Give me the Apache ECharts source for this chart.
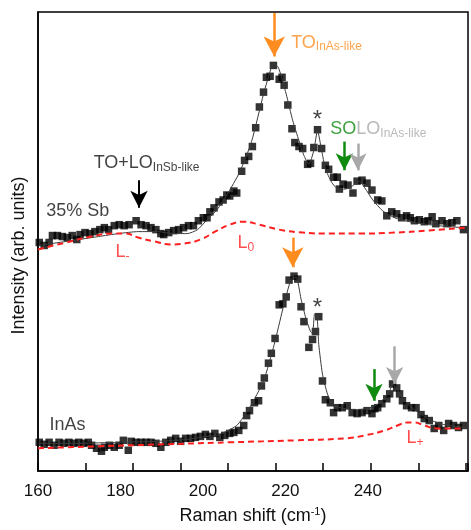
<!DOCTYPE html>
<html>
<head>
<meta charset="utf-8">
<script src="https://cdn.jsdelivr.net/npm/echarts@6/dist/echarts.min.js"></script>
<style>
    html, body { margin: 0; padding: 0; background: #fff; }
    #chart { width: 471px; height: 530px; }
</style>
</head>
<body>
<div id="chart"></div>
<script>
// 35% Sb spectrum (shifted up)
const sbShift = [160.3,161.5,162.7,163.5,164.7,165.9,167.1,168.3,169.4,170.2,171.4,172.6,173.8,175.0,176.1,177.1,178.5,179.7,180.9,182.1,183.8,185.0,186.2,187.4,188.6,189.8,190.5,191.7,192.9,194.1,195.3,196.5,197.7,198.9,200.1,201.0,201.7,202.7,203.9,204.9,205.8,206.5,207.5,208.2,209.4,210.1,211.1,212.0,212.8,213.7,214.7,215.4,216.3,217.1,218.5,219.2,219.7,220.6,221.6,222.3,223.3,224.2,225.4,226.1,226.9,227.8,228.8,229.7,230.5,231.7,232.6,233.1,234.0,235.2,236.4,237.4,238.6,239.8,241.0,242.4,243.4,244.6,245.8,247.0,248.2,249.4,250.3,251.3,252.5,253.7,254.6,255.6,256.5,258.0,259.2,260.4,261.6,263.2];
const sbCounts = [231,228,231,238,238,237,236,238,234,239,241,240,242,244,246,244,248,249,248,249,253,249,248,246,244,240,239,241,243,244,246,248,248,253,256,256,262,266,272,274,279,278,283,281,303,314,318,328,347,368,383,398,399,410,396,398,390,370,346,332,328,326,310,311,327,345,326,309,305,297,297,285,290,289,281,293,294,291,284,274,273,258,262,260,256,258,256,253,254,252,253,257,250,253,250,251,253,244];
const sbFitShift = [160.1,165.1,169.9,174.7,179.5,184.3,189.1,192.7,196.2,198.7,201.0,203.4,205.8,208.9,211.8,214.7,216.6,217.1,218.3,220.2,221.8,223.3,224.5,225.7,226.9,227.8,228.8,229.7,231.2,232.8,234.5,236.2,237.9,239.3,241.2,243.6,246.5,250.1,254.9,259.6,263.5];
const sbFit = [228,231,234,237,240,242,242,240,240,244,254,264,279,302,333,381,408,412,408,381,354,334,319,310,324,344,324,306,292,285,285,288,293,286,274,263,256,252,249,247,246];
const sbLShift = [160,166.8,173.0,178.3,181.2,184.3,188.3,192.2,195.5,199.4,203.4,206.5,209.9,213.7,218.5,224.2,230.5,238.6,246.5,254.4,263.5];
const sbL = [224,231,237,240,240,236,232,229,230,234,243,249,252,249,244,241,240,240,241,243,246];

// InAs spectrum
const inasShift = [160.3,161.5,162.7,163.9,165.1,166.3,167.5,168.7,169.9,171.1,172.2,173.0,174.2,175.4,176.1,177.3,178.5,179.7,180.7,181.9,182.6,183.8,185.0,186.2,187.4,188.6,189.8,191.0,192.2,193.4,194.6,195.8,197.0,198.2,199.4,200.6,201.7,202.9,204.1,205.3,206.5,207.5,208.7,209.9,210.6,211.3,212.5,213.5,214.2,214.9,215.9,216.6,217.5,218.5,219.4,220.2,220.9,222.1,223.0,223.8,224.5,225.7,226.6,227.3,228.1,229.0,229.7,230.9,231.7,232.6,233.8,235.0,236.2,237.4,238.6,239.8,241.0,241.7,242.4,243.4,244.6,245.3,246.0,247.0,247.7,248.4,249.4,250.6,251.7,252.9,253.7,254.9,256.1,257.2,258.4,259.6,260.8,262.0,263.2];
const inasCounts = [29,27,29,26,29,28,29,28,29,28,29,26,23,20,24,26,24,26,31,21,30,29,29,29,29,28,24,29,31,33,30,33,33,34,35,37,35,38,34,36,38,39,41,46,56,61,69,71,86,94,109,119,134,168,169,176,193,197,194,166,151,125,133,141,156,91,72,69,59,64,64,66,59,58,59,61,58,63,64,68,73,78,88,84,78,71,66,64,64,57,53,51,43,46,41,48,46,44,46];
const inasFitShift = [160.1,169.9,179.5,189.1,196.2,201.0,203.4,208.2,211.3,214.7,217.3,219.4,221.4,222.6,223.8,225.0,226.1,226.6,227.1,227.6,228.1,229.0,230.2,231.4,233.3,236.9,239.8,242.2,244.1,245.3,246.0,247.0,248.9,251.3,254.9,258.4,263.5];
const inasFit = [28,28,29,30,32,35,36,46,64,91,128,164,194,196,174,154,141,139,159,159,128,98,78,68,64,62,63,67,74,81,88,83,71,62,52,47,44];
const inasLShift = [160,174.7,190.7,206.5,222.6,234.5,239.3,244.1,247.2,249.6,251.3,253.7,256.8,263.5];
const inasL = [23,25,27,29,31,33,36,41,46,49,49,46,43,43];

const tickLabels = [160, 180, 200, 220, 240];

// arrows: [shift, start, tip]
const orangeArrows = [[217.3, 463, 419], [221.8, 236, 206]];
const blackArrows = [[184.5, 294, 266]];
const greenArrows = [[234.3, 333, 304], [241.5, 103, 71]];
const greyArrows = [[237.6, 331, 304], [246.5, 126, 88]];

const font = 'Liberation Sans, Arial, sans-serif';
const orange = '#ff8c1f';
const green = '#0f8a0f';
const grey = '#a8a8a8';
const red = '#ff1f1f';

function pairs(xs, ys) {
    return xs.map((x, i) => [x, ys[i]]);
}

function arrows(color, width, size, list) {
    return {
        type: 'line',
        data: [],
        silent: true,
        markLine: {
            silent: true,
            animation: false,
            symbol: ['none', 'arrow'],
            symbolSize: size,
            label: { show: false },
            lineStyle: { color: color, width: width, type: 'solid' },
            data: list.map(a => [{ coord: [a[0], a[1]] }, { coord: [a[0], a[2]] }])
        }
    };
}

function txt(size, color, sub) {
    let s = { fontSize: size, color: color, fontFamily: font, lineHeight: sub ? 10 : 21 };
    if (sub) s.verticalAlign = 'bottom';
    return s;
}

let rich = {
    k: txt(18, '#111'), ks: txt(12, '#111', true),
    o: txt(18, orange), os: txt(12, orange, true),
    g: txt(18, green),
    e: txt(18, grey), es: txt(12, grey, true),
    r: txt(18, red), rs: txt(12, red, true),
    st: { fontSize: 24, color: '#111', fontFamily: font }
};

// [shift, intensity, text, align]
const notes = [
    [221.4, 433, '{o|TO}{os|InAs-like}', 'left'],
    [230.9, 346, '{g|SO}{e|LO}{es|InAs-like}', 'left'],
    [173.5, 311, '{k|TO+LO}{ks|InSb-like}', 'left'],
    [162.0, 263, '{k|35% Sb}', 'left'],
    [162.8, 46, '{k|InAs}', 'left'],
    [227.8, 354, '{st|*}', 'center'],
    [227.8, 164, '{st|*}', 'center'],
    [178.8, 221, '{r|L}{rs|-}', 'left'],
    [208.4, 230, '{r|L}{rs|0}', 'left'],
    [249.4, 33, '{r|L}{rs|+}', 'left']
];

let myChart = echarts.init(document.getElementById('chart'));

let option = {
    animation: false,
    grid: {
        left: 38, right: -3, top: 12, bottom: 54,
        show: true, borderColor: '#000', borderWidth: 1.5
    },
    xAxis: [
        {
            type: 'value', min: 160, max: 264.3, interval: 20, position: 'bottom',
            axisLine: { show: true, lineStyle: { color: '#000', width: 1.5 } },
            axisTick: { show: false },
            splitLine: { show: false },
            axisLabel: {
                fontSize: 17, color: '#111', margin: 12, fontFamily: font,
                formatter: v => tickLabels.includes(v) ? v : ''
            },
            name: '{n|Raman shift (cm}{sup|-1}{n|)}',
            nameLocation: 'middle',
            nameGap: 35,
            nameTextStyle: {
                rich: {
                    n: { fontSize: 18, color: '#111', fontFamily: font, lineHeight: 20 },
                    sup: { fontSize: 11, color: '#111', fontFamily: font, lineHeight: 10, verticalAlign: 'top' }
                }
            }
        },
        {
            // tick marks
            type: 'value', min: 160, max: 250.45, interval: 10, position: 'bottom',
            axisLine: { show: false },
            axisTick: { show: true, inside: true, length: 8, lineStyle: { color: '#000', width: 1.5 } },
            axisLabel: { show: false },
            splitLine: { show: false }
        }
    ],
    yAxis: {
        type: 'value', min: 0, max: 464,
        axisLine: { show: true, lineStyle: { color: '#000', width: 1.5 } },
        axisTick: { show: false },
        axisLabel: { show: false },
        splitLine: { show: false },
        name: 'Intensity (arb. units)',
        nameLocation: 'middle',
        nameGap: 10,
        nameTextStyle: { fontSize: 18, color: '#111', fontFamily: font, padding: [0, 28, 0, 0] }
    },
    series: [
        {
            type: 'line', data: pairs(sbFitShift, sbFit), showSymbol: false, smooth: 0.2,
            lineStyle: { color: '#3a3a3a', width: 1 }, silent: true
        },
        {
            type: 'line', data: pairs(inasFitShift, inasFit), showSymbol: false, smooth: 0.2,
            lineStyle: { color: '#3a3a3a', width: 1 }, silent: true
        },
        {
            type: 'line', data: pairs(sbLShift, sbL), showSymbol: false, smooth: true,
            lineStyle: { color: red, width: 2, type: [6, 4] }, silent: true
        },
        {
            type: 'line', data: pairs(inasLShift, inasL), showSymbol: false, smooth: true,
            lineStyle: { color: red, width: 2, type: [6, 4] }, silent: true
        },
        {
            type: 'scatter', data: pairs(sbShift, sbCounts), symbol: 'rect', symbolSize: 7.5,
            itemStyle: { color: '#000' }, silent: true
        },
        {
            type: 'scatter', data: pairs(inasShift, inasCounts), symbol: 'rect', symbolSize: 7.5,
            itemStyle: { color: '#000' }, silent: true
        },
        arrows(orange, 2.5, [16, 20], orangeArrows),
        arrows('#000', 2, [13, 17], blackArrows),
        arrows(green, 2.5, [13, 17], greenArrows),
        arrows(grey, 2.5, [13, 17], greyArrows),
        {
            type: 'scatter', symbolSize: 0, silent: true,
            data: notes.map(n => ({
                value: [n[0], n[1]],
                label: {
                    show: true, position: 'inside', align: n[3], verticalAlign: 'middle',
                    formatter: n[2], rich: rich
                }
            }))
        }
    ]
};

myChart.setOption(option);
</script>
</body>
</html>
